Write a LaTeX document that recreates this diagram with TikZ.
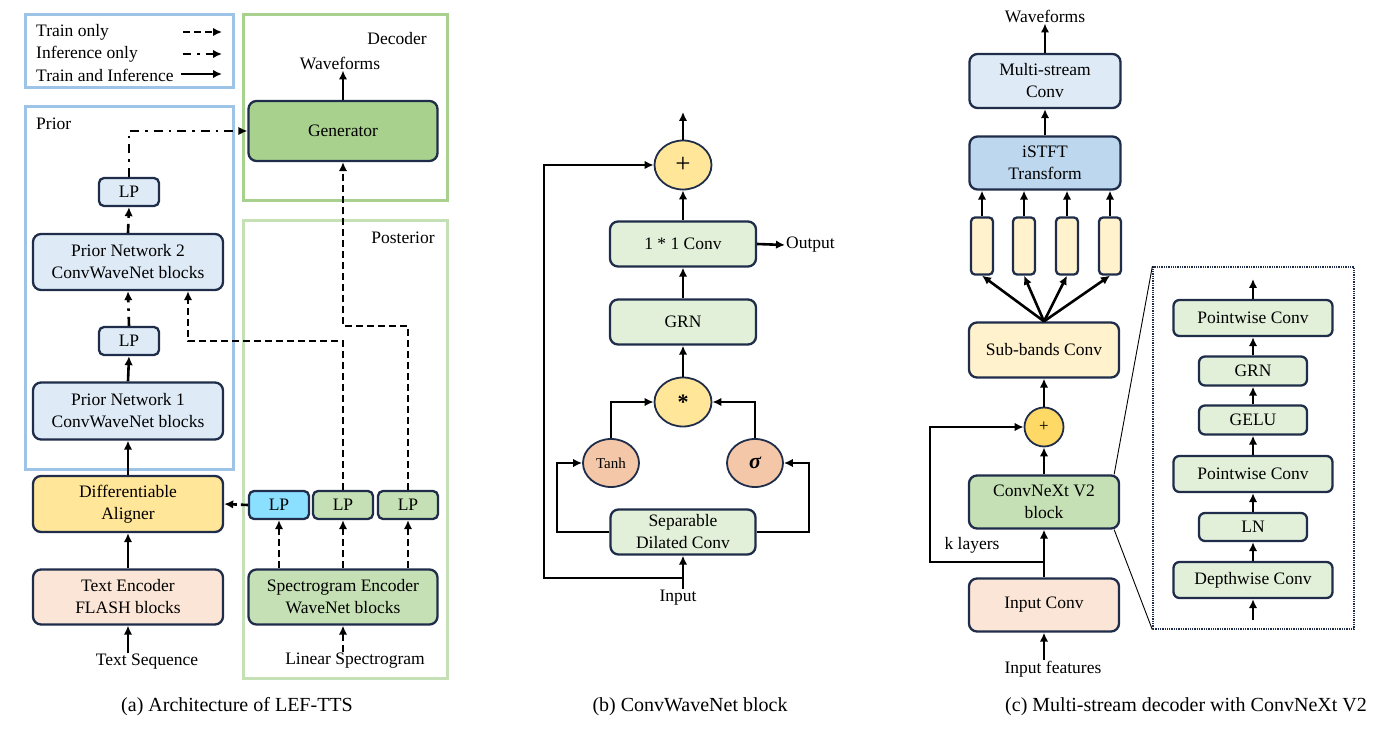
\documentclass[tikz,border=0pt]{standalone}
\usepackage{fontspec}
\setmainfont{Liberation Serif}
\usetikzlibrary{calc}
\usetikzlibrary{arrows.meta}
\usetikzlibrary{shapes.geometric}

\definecolor{edge}{HTML}{1F2D4A}
\definecolor{fblue}{HTML}{9DC3E6}
\definecolor{fgreen}{HTML}{A9D18E}
\definecolor{fpost}{HTML}{C5E0B4}
\definecolor{lblue}{HTML}{DEEBF7}
\definecolor{gengreen}{HTML}{A9D18E}
\definecolor{aligner}{HTML}{FFE699}
\definecolor{peach}{HTML}{FBE5D6}
\definecolor{specgreen}{HTML}{C5E0B4}
\definecolor{cyanlp}{HTML}{8BDFFF}
\definecolor{lgreen}{HTML}{E2F0D9}
\definecolor{salmon}{HTML}{F4C7A8}
\definecolor{istft}{HTML}{BDD7EE}
\definecolor{cream}{HTML}{FFF2CC}
\definecolor{gold}{HTML}{FFD966}

\begin{document}
\begin{tikzpicture}[x=1pt,y=-1pt,
    txt/.style={inner sep=1pt,font=\fontsize{17.5}{21}\selectfont},
    blk/.style={draw=edge,line width=2.3pt,rounded corners=8pt,align=center,inner sep=0pt,font=\fontsize{17.5}{22}\selectfont},
    op/.style={ellipse,draw=edge,line width=1.8pt,inner sep=0pt},
    arr/.style={line width=2.6pt,-{Latex[length=9pt,width=8.5pt]}},
    trn/.style={arr,dash pattern=on 7pt off 4pt},
    inf/.style={arr,dash pattern=on 9pt off 6pt on 2.5pt off 6pt},
    frame/.style={line width=3pt},
    captxt/.style={inner sep=0pt,font=\fontsize{20}{24}\selectfont}]

    \useasboundingbox (0,0) rectangle (1393,730);

    % (a) legend
    \draw[frame,draw=fblue] (25,15) rectangle (233,88);
    \node[txt,anchor=west] (ltrn) at (35,32) {Train only};
    \node[txt,anchor=west] (linf) at (35,54) {Inference only};
    \node[txt,anchor=west] (lboth) at (35,75) {Train and Inference};
    \coordinate (l1a) at (183,32);
    \coordinate (l1b) at (222,32);
    \coordinate (l2a) at (183,54);
    \coordinate (l2b) at (222,54);
    \coordinate (l3a) at (181,74);
    \coordinate (l3b) at (222,74);
    \draw[trn] (l1a) -- (l1b);
    \draw[inf,dash pattern=on 8pt off 6pt on 2.5pt off 6pt] (l2a) -- (l2b);
    \draw[arr] (l3a) -- (l3b);

    % (a) decoder
    \draw[frame,draw=fgreen] (243,15) rectangle (447,201);
    \node[txt] (dec) at (397,39) {Decoder};
    \node[txt] (wfa) at (340,63) {Waveforms};
    \node[blk,fill=gengreen,minimum width=189,minimum height=60] (gen) at (343,131) {Generator};
    \draw[arr] (gen.north) -- (gen.north |- wfa.south);

    % (a) prior
    \draw[frame,draw=fblue] (25,107) rectangle (233,469);
    \node[txt,anchor=west] (pri) at (35,124) {Prior};
    \node[blk,fill=lblue,minimum width=60,minimum height=28,rounded corners=5pt] (lp2) at (129,192) {LP};
    \node[blk,fill=lblue,minimum width=190,minimum height=56] (pn2) at (128,262) {Prior Network 2\\ConvWaveNet blocks};
    \node[blk,fill=lblue,minimum width=60,minimum height=28,rounded corners=5pt] (lp1) at (129,341) {LP};
    \node[blk,fill=lblue,minimum width=190,minimum height=57] (pn1) at (128,411) {Prior Network 1\\ConvWaveNet blocks};
    \node[blk,fill=aligner,minimum width=190,minimum height=56] (al) at (128,504) {Differentiable\\Aligner};
    \node[blk,fill=peach,minimum width=190,minimum height=55] (te) at (128,597) {Text Encoder\\FLASH blocks};
    \node[txt] (tseq) at (147,662) {Text Sequence};

    \draw[arr] (te.south |- tseq.north) -- (te.south);
    \draw[arr] (te.north) -- (al.south);
    \draw[arr] (al.north) -- (pn1.south);
    \draw[arr] (pn1.north) -- (lp1.south);
    \draw[inf] (lp1.north) -- (pn2.south);
    \draw[inf] (pn2.north) -- (lp2.south);
    \draw[inf] (lp2.north) |- (gen.west);

    % (a) posterior
    \draw[frame,draw=fpost] (243,221) rectangle (447,678);
    \node[txt] (post) at (403,238) {Posterior};
    \node[blk,fill=cyanlp,minimum width=60,minimum height=28,rounded corners=5pt] (lpc) at (279,505) {LP};
    \node[blk,fill=specgreen,minimum width=60,minimum height=28,rounded corners=5pt] (lpg1) at (343,505) {LP};
    \node[blk,fill=specgreen,minimum width=60,minimum height=28,rounded corners=5pt] (lpg2) at (408,505) {LP};
    \node[blk,fill=specgreen,minimum width=189,minimum height=55] (se) at (343,597) {Spectrogram Encoder\\WaveNet blocks};
    \node[txt] (lin) at (355,661) {Linear Spectrogram};

    \draw[trn] (se.south |- lin.north) -- (se.south);
    \draw[trn] (lpc.south |- se.north) -- (lpc.south);
    \draw[trn] (lpg1.south |- se.north) -- (lpg1.south);
    \draw[trn] (lpg2.south |- se.north) -- (lpg2.south);
    \draw[trn] (lpc.west) -- (al.east);
    \draw[trn] (lpg1.north) |- ($(pn2.south)+(60,50)$) -- ($(pn2.south)+(60,0)$);
    \draw[trn] (lpg2.north) |- ($(gen.south)+(0,164)$) -- (gen.south);

    % (b) ConvWaveNet block
    \node[op,fill=aligner,minimum width=57,minimum height=49,font=\fontsize{27}{27}\selectfont] (pls) at (683,165) {+};
    \node[blk,fill=lgreen,minimum width=146,minimum height=45] (c11) at (683,244) {1 * 1 Conv};
    \node[txt,anchor=west] (outb) at (785,245) {Output};
    \node[blk,fill=lgreen,minimum width=146,minimum height=45] (grn) at (683,322) {GRN};
    \node[op,fill=aligner,minimum width=57,minimum height=49,font=\fontsize{22}{22}\selectfont\bfseries] (mul) at (683,402) {*};
    \node[op,fill=salmon,minimum width=56,minimum height=48,font=\fontsize{15}{16}\selectfont] (tanh) at (611,463) {Tanh};
    \node[op,fill=salmon,minimum width=56,minimum height=48,font=\fontsize{22}{22}\selectfont\bfseries\itshape] (sig) at (755,463) {σ};
    \node[blk,fill=lgreen,minimum width=145,minimum height=45] (sdc) at (683,532) {Separable\\Dilated Conv};
    \node[txt] (inp) at (678,598) {Input};
    \coordinate (bsplit) at (683,578);
    \coordinate (btop) at (683,112);

    \draw[arr] (sdc.south |- inp.north) -- (sdc.south);
    \draw[arr] (bsplit) -| (544,165) -- (pls.west);
    \draw[arr] (sdc.west) -| (557,463) -- (tanh.west);
    \draw[arr] (sdc.east) -| (809,463) -- (sig.east);
    \draw[arr] (tanh.north) |- (mul.west);
    \draw[arr] (sig.north) |- (mul.east);
    \draw[arr] (mul.north) -- (grn.south);
    \draw[arr] (grn.north) -- (c11.south);
    \draw[arr] (c11.north) -- (pls.south);
    \draw[arr] (c11.east) -- (outb.west);
    \draw[arr] (pls.north) -- (btop);

    % (c) multi-stream decoder
    \node[txt] (wfc) at (1045,16) {Waveforms};
    \node[blk,fill=lblue,minimum width=151,minimum height=54] (msc) at (1045,81) {Multi-stream\\Conv};
    \node[blk,fill=istft,minimum width=151,minimum height=53] (ist) at (1045,163) {iSTFT\\Transform};
    \node[blk,fill=cream,minimum width=22,minimum height=57,rounded corners=4pt] (s1) at (982,246) {};
    \node[blk,fill=cream,minimum width=22,minimum height=57,rounded corners=4pt] (s2) at (1024,246) {};
    \node[blk,fill=cream,minimum width=22,minimum height=57,rounded corners=4pt] (s3) at (1067,246) {};
    \node[blk,fill=cream,minimum width=22,minimum height=57,rounded corners=4pt] (s4) at (1110,246) {};
    \node[blk,fill=cream,minimum width=150,minimum height=55] (sbc) at (1044,350) {Sub-bands Conv};
    \node[circle,draw=edge,line width=1.8pt,fill=gold,minimum size=39,inner sep=0pt,font=\fontsize{17}{17}\selectfont] (addc) at (1044,427) {+};
    \node[blk,fill=specgreen,minimum width=150,minimum height=53] (cnx) at (1044,502) {ConvNeXt V2\\block};
    \node[blk,fill=peach,minimum width=150,minimum height=53] (ic) at (1044,605) {Input Conv};
    \node[txt] (kl) at (972,545) {k layers};
    \node[txt] (inf) at (1053,669) {Input features};
    \coordinate (csplit) at (1044,562);

    \draw[arr] (msc.north) -- (wfc.south);
    \draw[arr] (ist.north) -- (msc.south);
    \draw[arr] (s1.north) -- (s1.north |- ist.south);
    \draw[arr] (s2.north) -- (s2.north |- ist.south);
    \draw[arr] (s3.north) -- (s3.north |- ist.south);
    \draw[arr] (s4.north) -- (s4.north |- ist.south);
    \draw[arr] (sbc.north) -- (s1.south);
    \draw[arr] (sbc.north) -- (s2.south);
    \draw[arr] (sbc.north) -- (s3.south);
    \draw[arr] (sbc.north) -- (s4.south);
    \draw[arr] (addc.north) -- (sbc.south);
    \draw[arr] (cnx.north) -- (addc.south);
    \draw[arr] (ic.north) -- (cnx.south);
    \draw[arr] (csplit) -| (930,427) -- (addc.west);
    \draw[arr] (ic.south |- inf.north) -- (ic.south);

    % (c) inside of the ConvNeXt V2 block
    \node[draw=edge,densely dotted,line width=1.3pt,minimum width=201,minimum height=362] (zbox) at (1253.5,448) {};
    \draw[line width=0.9pt] ($(cnx.north east)+(-6,0)$) -- (zbox.north west);
    \draw[line width=0.9pt] ($(cnx.south east)+(-6,0)$) -- (zbox.south west);
    \node[blk,fill=lgreen,minimum width=159,minimum height=36,rounded corners=6pt] (pw2) at (1253,318) {Pointwise Conv};
    \node[blk,fill=lgreen,minimum width=108,minimum height=29,rounded corners=6pt] (grc) at (1253,371) {GRN};
    \node[blk,fill=lgreen,minimum width=108,minimum height=29,rounded corners=6pt] (gel) at (1253,420) {GELU};
    \node[blk,fill=lgreen,minimum width=159,minimum height=36,rounded corners=6pt] (pw1) at (1253,474) {Pointwise Conv};
    \node[blk,fill=lgreen,minimum width=108,minimum height=28,rounded corners=6pt] (lnc) at (1253,527) {LN};
    \node[blk,fill=lgreen,minimum width=159,minimum height=36,rounded corners=6pt] (dwc) at (1253,580) {Depthwise Conv};
    \coordinate (zin) at (1253,620);
    \coordinate (zout) at (1253,279);

    \draw[arr] (zin) -- (dwc.south);
    \draw[arr] (dwc.north) -- (lnc.south);
    \draw[arr] (lnc.north) -- (pw1.south);
    \draw[arr] (pw1.north) -- (gel.south);
    \draw[arr] (gel.north) -- (grc.south);
    \draw[arr] (grc.north) -- (pw2.south);
    \draw[arr] (pw2.north) -- (zout);

    % captions
    \node[captxt] (capa) at (237,707) {(a) Architecture of LEF-TTS};
    \node[captxt] (capb) at (690,707) {(b) ConvWaveNet block};
    \node[captxt] (capc) at (1186,707) {(c) Multi-stream decoder with ConvNeXt V2};

\end{tikzpicture}
\end{document}
